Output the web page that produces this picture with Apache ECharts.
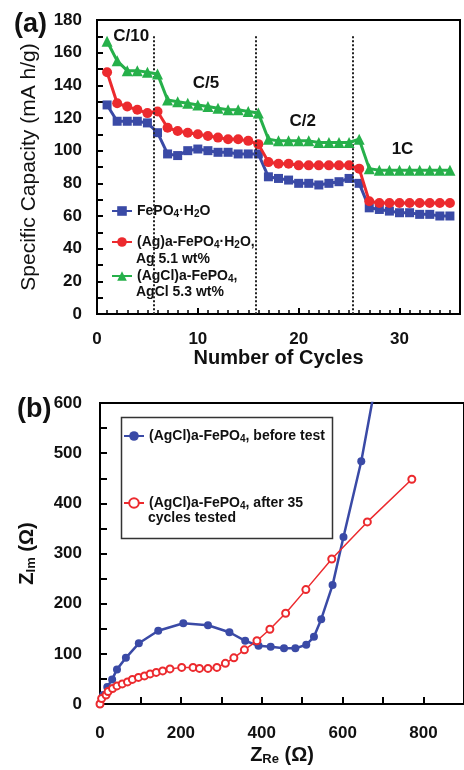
<!DOCTYPE html>
<html lang="en">
<head>
    <meta charset="UTF-8">
    <title>FePO4 capacity and impedance</title>
    <script src="https://cdn.jsdelivr.net/npm/echarts@6/dist/echarts.min.js"></script>
    <style>
        html, body { margin: 0; padding: 0; background: #fff; }
    </style>
</head>
<body>
    <div id="main" style="width: 464px; height: 770px;"></div>
    <script>
        // ---- panel (a): capacity vs cycle ----
        var cycles = [1, 2, 3, 4, 5, 6, 7, 8, 9, 10, 11, 12, 13, 14, 15, 16, 17, 18, 19, 20,
            21, 22, 23, 24, 25, 26, 27, 28, 29, 30, 31, 32, 33, 34, 35];
        var capBare = [128, 118, 118, 118, 117, 111, 98, 97, 100, 101, 100, 99, 99, 98, 98, 98, 84, 83,
            82, 80, 80, 79, 80, 81, 83, 80, 65, 64, 63, 62, 62, 61, 61, 60, 60];
        var capAg = [148, 129, 127, 125, 123, 124, 114, 112, 111, 110, 109, 108, 107, 107, 106, 104, 93, 92,
            92, 91, 91, 91, 91, 91, 91, 89, 69, 68, 68, 68, 68, 68, 68, 68, 68];
        var capAgCl = [167, 155, 149, 149, 148, 147, 131, 130, 129, 128, 127, 126, 125, 125, 124, 123, 107, 106,
            106, 106, 106, 105, 105, 105, 105, 107, 89, 88, 88, 88, 88, 88, 88, 88, 88];
        var rateBreaks = [5.6, 15.7, 25.4];
        var rateLabels = ['C/10', 'C/5', 'C/2', '1C'];
        var rateLabelPos = [[3.4, 170], [10.8, 141], [20.4, 118], [30.3, 101]];

        // ---- panel (b): Nyquist plot ----
        var eisBefore = [[0, 0], [8, 18], [18, 34], [30, 49], [42, 69], [64, 92], [96, 121], [144, 146],
            [206, 161], [267, 157], [320, 143], [359, 126], [392, 116], [422, 114], [455, 111], [483, 111],
            [510, 118], [529, 134], [547, 169], [575, 237], [602, 333], [646, 484], [700, 720]];
        var eisAfter = [[0, 0], [4, 11], [15, 18], [20, 25], [31, 31], [42, 36], [55, 40], [68, 44], [80, 49],
            [95, 53], [110, 56], [124, 60], [139, 63], [155, 66], [173, 70], [202, 73], [230, 73], [246, 71],
            [267, 71], [289, 73], [310, 81], [331, 92], [357, 108], [388, 126], [420, 149], [459, 181],
            [509, 228], [573, 289], [661, 363], [771, 448]];

        var FONT = 'Arial, "Liberation Sans", sans-serif';
        var BLUE = '#3a4aa6', RED = '#ec2a2e', GREEN = '#26b04a';

        function pairs(xs, ys) {
            return xs.map(function (x, i) { return [x, ys[i]]; });
        }

        // rich styles for legend text with subscripts
        var legendRich = {
            t: { fontSize: 14, fontWeight: 'bold', fontFamily: FONT, color: '#111', lineHeight: 16 },
            s: { fontSize: 10, fontWeight: 'bold', fontFamily: FONT, color: '#111', lineHeight: 10, verticalAlign: 'bottom' }
        };
        var legendText = {
            'FePO4·H2O': '{t|FePO}{s|4}{t|·H}{s|2}{t|O}',
            '(Ag)a-FePO4·H2O': '{t|(Ag)a-FePO}{s|4}{t|·H}{s|2}{t|O,}',
            '(AgCl)a-FePO4': '{t|(AgCl)a-FePO}{s|4}{t|,}',
            'before': '{t|(AgCl)a-FePO}{s|4}{t|, before test}',
            'after': '{t|(AgCl)a-FePO}{s|4}{t|, after 35}'
        };

        function oneLegend(name, left, top) {
            return {
                data: [name],
                left: left,
                top: top,
                padding: 0,
                itemWidth: 20,
                itemHeight: 12,
                itemGap: 2,
                selectedMode: false,
                formatter: function (n) { return legendText[n]; },
                textStyle: { rich: legendRich }
            };
        }

        var tickLabel = { fontSize: 17, fontWeight: 'bold', fontFamily: FONT, color: '#111' };
        var axisLine = { show: true, lineStyle: { color: '#000', width: 2 } };

        var myChart = echarts.init(document.getElementById('main'));
        var option = {
            animation: false,
            title: [
                { text: '(a)', left: 9, top: 6, textStyle: { fontSize: 27, fontWeight: 'bold', fontFamily: FONT, color: '#111' } },
                { text: '(b)', left: 12, top: 391, textStyle: { fontSize: 27, fontWeight: 'bold', fontFamily: FONT, color: '#111' } }
            ],
            legend: [
                oneLegend('FePO4·H2O', 111, 204),
                oneLegend('(Ag)a-FePO4·H2O', 111, 235),
                oneLegend('(AgCl)a-FePO4', 111, 269),
                oneLegend('before', 123, 429),
                oneLegend('after', 123, 496)
            ],
            grid: [
                { left: 97, top: 20, right: 4, bottom: 456, show: true, borderColor: '#000', borderWidth: 2 },
                { left: 100, top: 403, right: -4, bottom: 66, show: true, borderColor: '#000', borderWidth: 2 }
            ],
            xAxis: [
                {
                    gridIndex: 0, type: 'value', min: 0, max: 36, interval: 10,
                    name: 'Number of Cycles', nameLocation: 'middle', nameGap: 30,
                    nameTextStyle: { fontSize: 20, fontWeight: 'bold', fontFamily: FONT, color: '#111' },
                    axisLine: axisLine,
                    axisTick: { inside: true, length: 6, lineStyle: { color: '#000', width: 2 } },
                    minorTick: { show: true, splitNumber: 10, length: 4, lineStyle: { color: '#000', width: 1.5 } },
                    axisLabel: Object.assign({ margin: 17, showMaxLabel: false }, tickLabel),
                    splitLine: { show: false }
                },
                {
                    gridIndex: 1, type: 'value', min: 0, max: 900, interval: 200,
                    name: '{z|Z}{s|Re}{z| (Ω)}', nameLocation: 'middle', nameGap: 40,
                    nameTextStyle: {
                        rich: {
                            z: { fontSize: 20, fontWeight: 'bold', fontFamily: FONT, color: '#111', lineHeight: 22 },
                            s: { fontSize: 13, fontWeight: 'bold', fontFamily: FONT, color: '#111', lineHeight: 13, verticalAlign: 'bottom' }
                        }
                    },
                    axisLine: axisLine,
                    axisTick: { inside: true, length: 7, lineStyle: { color: '#000', width: 2 } },
                    minorTick: { show: true, splitNumber: 2, length: 7, lineStyle: { color: '#000', width: 2 } },
                    axisLabel: Object.assign({ margin: 21, showMaxLabel: false }, tickLabel),
                    splitLine: { show: false }
                }
            ],
            yAxis: [
                {
                    gridIndex: 0, type: 'value', min: 0, max: 180, interval: 20,
                    name: 'Specific Capacity (mA h/g)', nameLocation: 'middle', nameGap: 57,
                    nameTextStyle: { fontSize: 21, fontFamily: FONT, color: '#111' },
                    axisLine: axisLine,
                    axisTick: { inside: true, length: 6, lineStyle: { color: '#000', width: 2 } },
                    minorTick: { show: true, splitNumber: 2, length: 6, lineStyle: { color: '#000', width: 2 } },
                    axisLabel: Object.assign({ margin: 15 }, tickLabel),
                    splitLine: { show: false }
                },
                {
                    gridIndex: 1, type: 'value', min: 0, max: 600, interval: 100,
                    name: '{z|Z}{s|Im}{z| (Ω)}', nameLocation: 'middle', nameGap: 62,
                    nameTextStyle: {
                        rich: {
                            z: { fontSize: 20, fontWeight: 'bold', fontFamily: FONT, color: '#111', lineHeight: 22 },
                            s: { fontSize: 13, fontWeight: 'bold', fontFamily: FONT, color: '#111', lineHeight: 13, verticalAlign: 'bottom' }
                        }
                    },
                    axisLine: axisLine,
                    axisTick: { inside: true, length: 7, lineStyle: { color: '#000', width: 2 } },
                    minorTick: { show: true, splitNumber: 2, length: 7, lineStyle: { color: '#000', width: 2 } },
                    axisLabel: Object.assign({ margin: 18 }, tickLabel),
                    splitLine: { show: false }
                }
            ],
            series: [
                {
                    name: 'FePO4·H2O', type: 'line', xAxisIndex: 0, yAxisIndex: 0,
                    data: pairs(cycles, capBare),
                    symbol: 'rect', symbolSize: 9, z: 3,
                    lineStyle: { color: BLUE, width: 3 },
                    itemStyle: { color: BLUE },
                    markLine: {
                        silent: true, symbol: 'none', animation: false,
                        label: { show: false },
                        lineStyle: { type: 'dotted', color: '#222', width: 2 },
                        data: rateBreaks.map(function (x) {
                            return [{ coord: [x, 170] }, { coord: [x, 0] }];
                        })
                    },
                    markPoint: {
                        silent: true, symbol: 'circle', symbolSize: 0,
                        label: {
                            show: true, formatter: '{b}', position: 'inside',
                            fontSize: 17, fontWeight: 'bold', fontFamily: FONT, color: '#111'
                        },
                        data: rateLabels.map(function (t, i) {
                            return { name: t, coord: rateLabelPos[i] };
                        })
                    }
                },
                {
                    name: '(Ag)a-FePO4·H2O', type: 'line', xAxisIndex: 0, yAxisIndex: 0,
                    data: pairs(cycles, capAg),
                    symbol: 'circle', symbolSize: 10, z: 4,
                    lineStyle: { color: RED, width: 3 },
                    itemStyle: { color: RED }
                },
                {
                    name: '(AgCl)a-FePO4', type: 'line', xAxisIndex: 0, yAxisIndex: 0,
                    data: pairs(cycles, capAgCl),
                    symbol: 'triangle', symbolSize: 11, z: 5,
                    lineStyle: { color: GREEN, width: 3 },
                    itemStyle: { color: GREEN }
                },
                {
                    name: 'before', type: 'line', xAxisIndex: 1, yAxisIndex: 1,
                    data: eisBefore,
                    symbol: 'circle', symbolSize: 8, z: 3,
                    lineStyle: { color: BLUE, width: 2.5 },
                    itemStyle: { color: BLUE }
                },
                {
                    name: 'after', type: 'line', xAxisIndex: 1, yAxisIndex: 1,
                    data: eisAfter,
                    symbol: 'emptyCircle', symbolSize: 7, z: 4,
                    lineStyle: { color: RED, width: 1.5 },
                    itemStyle: { color: RED, borderWidth: 1.3 }
                }
            ],
            graphic: {
                elements: [
                    { type: 'text', left: 136, top: 252, style: { text: 'Ag 5.1 wt%', font: 'bold 14px ' + FONT, fill: '#111' } },
                    { type: 'text', left: 136, top: 285, style: { text: 'AgCl 5.3 wt%', font: 'bold 14px ' + FONT, fill: '#111' } },
                    { type: 'text', left: 148, top: 511, style: { text: 'cycles tested', font: 'bold 14px ' + FONT, fill: '#111' } },
                    {
                        type: 'rect', left: 119, top: 415, z: 1,
                        shape: { width: 211, height: 121 },
                        style: { fill: 'none', stroke: '#333', lineWidth: 1.5 }
                    }
                ]
            }
        };
        myChart.setOption(option);
    </script>
</body>
</html>
